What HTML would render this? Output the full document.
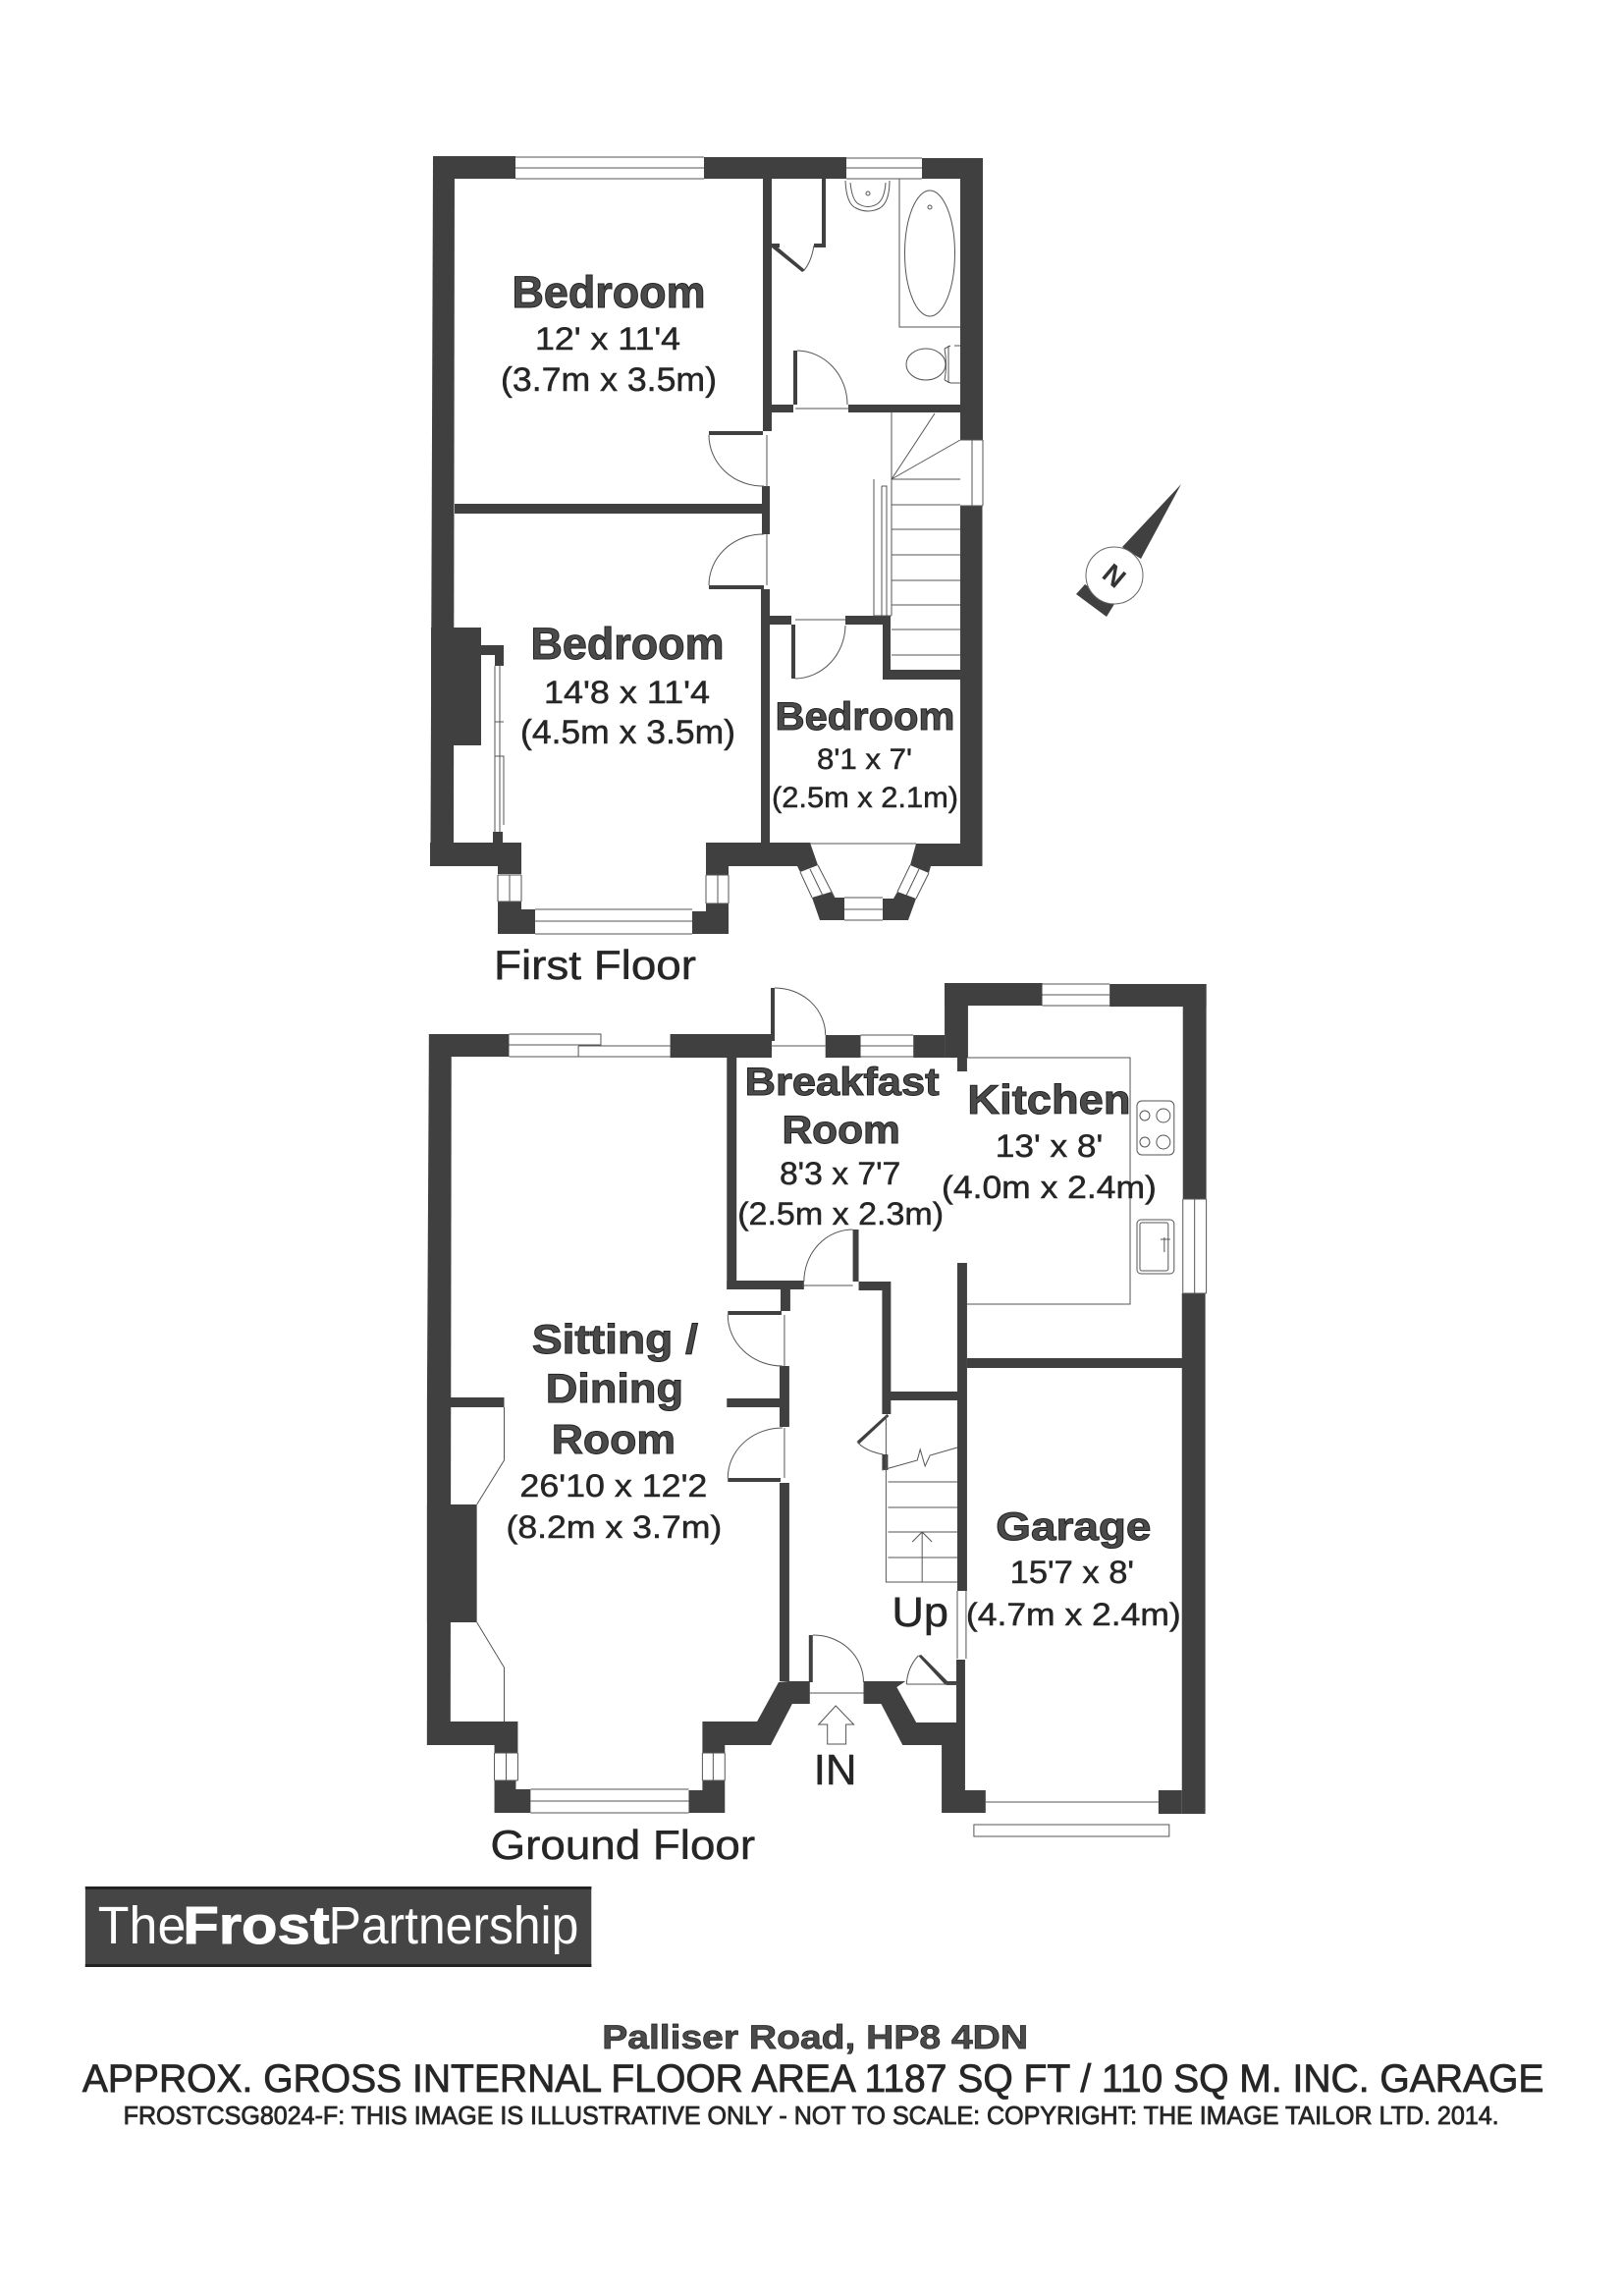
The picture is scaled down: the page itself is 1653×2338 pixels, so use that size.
<!DOCTYPE html>
<html><head><meta charset="utf-8"><title>Palliser Road floor plan</title>
<style>
html,body{margin:0;padding:0;background:#fff}
svg{display:block}
text{font-family:"Liberation Sans",Arial,sans-serif}
.w{fill:#404040}
.t{fill:none;stroke:#555;stroke-width:1}
.b{font-weight:bold;fill:#4a4a4a;stroke:#222;stroke-width:1}
.r{fill:#262626;stroke:#262626;stroke-width:.5}
</style></head><body>
<svg xmlns="http://www.w3.org/2000/svg" width="1653" height="2338" viewBox="0 0 1653 2338">
<rect width="1653" height="2338" fill="#fff"/>

<!-- FIRST FLOOR walls -->
<g class="w">
<rect x="441" y="159" width="84" height="23"/>
<rect x="717" y="160" width="145" height="22"/>
<rect x="939" y="161" width="62" height="21"/>
<polygon points="441,159 463,159 462,859 438.500,882 438.500,859"/>
<rect x="439" y="639" width="51" height="120"/>
<rect x="978" y="161" width="23" height="287"/>
<rect x="978" y="515" width="22.500" height="367"/>
<rect x="777" y="182" width="9" height="257"/>
<rect x="837" y="182" width="4" height="70"/>
<rect x="786" y="248" width="8" height="4"/>
<rect x="829" y="248" width="12" height="4"/>
<rect x="784" y="412" width="24" height="8"/>
<rect x="864" y="412" width="114" height="8"/>
<rect x="808" y="357" width="4" height="55"/>
<rect x="722" y="439" width="55" height="4"/>
<rect x="776" y="495" width="8" height="49"/>
<rect x="463" y="513" width="313" height="10"/>
<rect x="722" y="596" width="56" height="4"/>
<rect x="775" y="600" width="9" height="260"/>
<rect x="784" y="627" width="22" height="9"/>
<rect x="861" y="627" width="46" height="9"/>
<rect x="806" y="636" width="4" height="55"/>
<rect x="899" y="627" width="8" height="65"/>
<rect x="899" y="682" width="79" height="10"/>
<rect x="490" y="657" width="23" height="10"/>
<rect x="504" y="667" width="9" height="11"/>
<rect x="502" y="847" width="10" height="12"/>
<polygon points="438,858 531,858 531,890 507,890 507,882 438,882"/>
<polygon points="507,918 531,918 531,926 545,926 545,951 507,951"/>
<polygon points="705,951 705,928 719,928 719,920 742,920 742,951"/>
<polygon points="719,858 825,858 833,881 815,888 812,882 742,882 742,891 719,891"/>
<polygon points="827,914 847,908 850,914 860,914 860,937 835,937"/>
<polygon points="899,915 910,915 914,908 933,915 925,937 899,937"/>
<polygon points="933,859 978,859 1000.500,859 1000.500,882 948,882 946,889 927,881"/>
<polygon points="786,252 790,250 820,275 817,277" />
</g>
<!-- first floor thin lines -->
<g class="t">
<path d="M525 160H717M525 182H717M525 171H717"/>
<path d="M862 161H939M862 182H939M862 171H939"/>
<path d="M781 443V495M781 544V596"/>
<path d="M722 443A55 52 0 0 0 778 495"/>
<path d="M722 596A55 52 0 0 1 778 544"/>
<path d="M812 357A52 55 0 0 1 863 412"/>
<path d="M810 691A52 55 0 0 0 861 637"/>
<path d="M829 250Q826 268 818 276"/>
<path d="M810 416H864M810 631H861"/>
<path d="M916 182V333H978"/>
<ellipse cx="947" cy="258" rx="25.500" ry="64"/>
<circle cx="947" cy="211" r="2"/>
<path d="M861 184Q862 208 872 212Q884 218 896 212Q906 206 906 184"/>
<path d="M866 186Q868 205 875 208Q884 213 893 208Q901 203 902 186"/>
<circle cx="884" cy="197" r="2"/>
<ellipse cx="943" cy="371" rx="20" ry="16"/>
<path d="M962 355Q965 371 962 387M962 355L968 352M962 387L968 390H978M966 352V390M978 352H972"/>
<path d="M908 420V488M908 488L952 421M908 488L978 448M908 488H978"/>
<path d="M890 488V627H908M908 488V627"/>
<path d="M898 495H903V627M898 495V627"/>
<path d="M908 514H978M908 539H978M908 565H978M908 591H978M908 616H978M908 641H978M908 667H978"/>
<path d="M978 448H1001M1001 448V515M978 515H1001M990 448V515"/>
<path d="M504 678V847M509 678V847M504 770H513V840M504 735H513"/>
<path d="M507 891H531M507 918H531M507 891V918M531 891V918M519 891V918"/>
<path d="M719 891H742M719 920H742M719 891V920M742 891V920M731 891V920"/>
<path d="M545 926H705M545 951H705M545 938H705"/>
<path d="M825 859H933"/>
<path d="M815 888L827 914M833 881L850 914M825 885L838 912"/>
<path d="M927 881L914 908M946 889L933 915M936 885L923 912"/>
<path d="M860 914H899M860 937H899M860 926H899"/>
</g>

<!-- GROUND FLOOR -->
<g transform="translate(420 0) scale(.9946 1) translate(-420 0)">
<g class="w">
<rect x="437" y="1053" width="82" height="23"/>
<polygon points="437,1053 460,1053 459,1760 435,1777 435,1423"/>
<rect x="435" y="1532" width="51" height="120"/>
<polygon points="459,1423 514,1423 514,1433 459,1433"/>
<polygon points="435,1753 528,1753 528,1785 504,1785 504,1777 435,1777"/>
<polygon points="504,1813 526,1813 526,1822 541,1822 541,1846 504,1846"/>
<polygon points="703,1823 717,1823 717,1813 740,1813 740,1846 703,1846"/>
<polygon points="717,1785 740,1785 740,1777 787,1777 809,1735 827,1735 827,1712 805,1712 795,1713 773,1753 717,1753"/>
<rect x="684" y="1053" width="104" height="24"/>
<rect x="787" y="1006" width="4" height="54"/>
<rect x="843" y="1054" width="36" height="23"/>
<rect x="933" y="1054" width="32" height="23"/>
<rect x="965" y="1001" width="24" height="76"/>
<rect x="978" y="1077" width="10" height="14"/>
<rect x="965" y="1001" width="100" height="23"/>
<rect x="1134" y="1002" width="99" height="23"/>
<rect x="1209" y="1002" width="24" height="219"/>
<rect x="1208" y="1317" width="24" height="530"/>
<rect x="742" y="1077" width="10" height="236"/>
<rect x="742" y="1304" width="79" height="9"/>
<rect x="797" y="1313" width="10" height="22"/>
<rect x="743" y="1335" width="55" height="4"/>
<rect x="796" y="1391" width="10" height="62"/>
<rect x="742" y="1424" width="55" height="9"/>
<rect x="743" y="1505" width="54" height="4"/>
<rect x="796" y="1510" width="10" height="202"/>
<rect x="871" y="1252" width="6" height="53"/>
<rect x="877" y="1305" width="33" height="9"/>
<rect x="901" y="1314" width="9" height="126"/>
<rect x="909" y="1417" width="70" height="9"/>
<rect x="978" y="1286" width="10" height="334"/>
<rect x="988" y="1383" width="221" height="10"/>
<rect x="901" y="1481" width="6" height="16"/>
<rect x="826" y="1665" width="4" height="48"/>
<polygon points="882,1712 925,1712 916,1718 936,1754 977,1754 977,1690 986,1690 986,1823 1007,1823 1007,1846 962,1846 962,1777 922,1777 900,1735 882,1735"/>
<rect x="1184" y="1823" width="24" height="24"/>
<polygon points="906,1440 908,1442 878,1470 875,1468"/>
<polygon points="938,1686 941,1685 969,1713 966,1716"/>
<rect x="967" y="1712" width="11" height="4"/>
</g>
<g class="t">
<path d="M519 1053H613V1064H519M519 1076H684M590 1065H684M590 1065V1076M613 1053V1065"/>
<path d="M791 1006A52 48 0 0 1 843 1054"/>
<path d="M787 1065H843"/>
<path d="M879 1054H933M879 1076H933M879 1065H933"/>
<path d="M1065 1002H1134M1065 1024H1134M1065 1013H1134"/>
<path d="M1209 1221H1233M1209 1317H1233M1209 1221V1317M1233 1221V1317M1221 1221V1317"/>
<path d="M988 1077H1155V1328H988"/>
<rect x="1162" y="1121" width="38" height="55" rx="5"/>
<circle cx="1170" cy="1136" r="5"/><circle cx="1189" cy="1136" r="7"/>
<circle cx="1170" cy="1163" r="5"/><circle cx="1189" cy="1163" r="7"/>
<rect x="1162" y="1242" width="38" height="55" rx="4"/>
<rect x="1165" y="1245" width="29" height="49" rx="2"/>
<path d="M1186 1262H1196M1190 1260V1275"/>
<path d="M821 1305A50 53 0 0 1 871 1252"/>
<path d="M821 1309H871"/>
<path d="M743 1339A56 52 0 0 0 799 1391"/>
<path d="M801 1339V1391M801 1454V1505"/>
<path d="M743 1505A56 51 0 0 1 799 1454"/>
<path d="M514 1433V1487L486 1532M486 1652L514 1698V1753"/>
<path d="M830 1665A51 48 0 0 1 882 1713"/>
<path d="M826 1724H882"/>
<path d="M876 1469Q885 1478 902 1481"/>
<path d="M938 1686Q927 1698 926 1715M926 1715H978"/>
<path d="M905 1441V1611H978"/>
<path d="M907 1509H978M907 1535H978M907 1560H978M907 1586H978"/>
<path d="M901 1497L937 1487L940 1476L945 1493L950 1482L978 1474"/>
<path d="M942 1560V1611M932 1570L942 1560L952 1570"/>
<path d="M978 1620V1689M987 1620V1689"/>
<path d="M836 1756L853.500 1737L872 1756H864V1776H845V1756Z"/>
<path d="M504 1785H528M504 1813H528M504 1785V1813M528 1785V1813M516 1785V1813"/>
<path d="M717 1785H740M717 1813H740M717 1785V1813M740 1785V1813M728 1785V1813"/>
<path d="M541 1822H703M541 1846H703M541 1834H703"/>
<path d="M1007 1835H1184"/>
<rect x="995" y="1858" width="200" height="12"/>
</g>
<text class="b" x="760.500" y="1115" font-size="40" textLength="199" lengthAdjust="spacingAndGlyphs">Breakfast</text>
<text class="b" x="798.500" y="1164" font-size="40" textLength="121" lengthAdjust="spacingAndGlyphs">Room</text>
<text class="r" x="796" y="1206" font-size="32" textLength="124" lengthAdjust="spacingAndGlyphs">8'3 x 7'7</text>
<text class="r" x="753" y="1247" font-size="32" textLength="211" lengthAdjust="spacingAndGlyphs">(2.5m x 2.3m)</text>
<text class="b" x="988.500" y="1134" font-size="42" textLength="167" lengthAdjust="spacingAndGlyphs">Kitchen</text>
<text class="r" x="1017" y="1178" font-size="32" textLength="110" lengthAdjust="spacingAndGlyphs">13' x 8'</text>
<text class="r" x="962" y="1220" font-size="32" textLength="220" lengthAdjust="spacingAndGlyphs">(4.0m x 2.4m)</text>
<text class="b" x="542.500" y="1378" font-size="42" textLength="170" lengthAdjust="spacingAndGlyphs">Sitting /</text>
<text class="b" x="556.500" y="1428" font-size="42" textLength="141" lengthAdjust="spacingAndGlyphs">Dining</text>
<text class="b" x="562.500" y="1480" font-size="42" textLength="127" lengthAdjust="spacingAndGlyphs">Room</text>
<text class="r" x="530" y="1524" font-size="32" textLength="192" lengthAdjust="spacingAndGlyphs">26'10 x 12'2</text>
<text class="r" x="516" y="1566" font-size="32" textLength="221" lengthAdjust="spacingAndGlyphs">(8.2m x 3.7m)</text>
<text class="b" x="1017.500" y="1568" font-size="40" textLength="159" lengthAdjust="spacingAndGlyphs">Garage</text>
<text class="r" x="1032" y="1612" font-size="32" textLength="127" lengthAdjust="spacingAndGlyphs">15'7 x 8'</text>
<text class="r" x="987" y="1655" font-size="32" textLength="220" lengthAdjust="spacingAndGlyphs">(4.7m x 2.4m)</text>
<text class="r" x="911" y="1656" font-size="43" textLength="58" lengthAdjust="spacingAndGlyphs">Up</text>
<text class="r" x="831" y="1817" font-size="44" textLength="44" lengthAdjust="spacingAndGlyphs">IN</text>
<text class="r" x="500" y="1893" font-size="42" textLength="271" lengthAdjust="spacingAndGlyphs">Ground Floor</text>
</g>

<!-- Compass -->
<polygon points="1203,493 1143,557 1162,569" fill="#404040"/>
<polygon points="1105,595 1096,605 1127,628 1135,615" fill="#404040"/>
<circle cx="1135" cy="586" r="29" fill="#fff" stroke="#666" stroke-width="1"/>
<text x="0" y="0" transform="translate(1135 586) rotate(40)" font-size="28" font-weight="bold" text-anchor="middle" dy="10" fill="#333">N</text>

<!-- First floor labels -->
<g>
<text class="b" x="521.500" y="313" font-size="45" textLength="197" lengthAdjust="spacingAndGlyphs">Bedroom</text>
<text class="r" x="545" y="356" font-size="32" textLength="148" lengthAdjust="spacingAndGlyphs">12' x 11'4</text>
<text class="r" x="510" y="398" font-size="34" textLength="220" lengthAdjust="spacingAndGlyphs">(3.7m x 3.5m)</text>
<text class="b" x="540.500" y="671" font-size="45" textLength="197" lengthAdjust="spacingAndGlyphs">Bedroom</text>
<text class="r" x="554" y="716" font-size="32" textLength="169" lengthAdjust="spacingAndGlyphs">14'8 x 11'4</text>
<text class="r" x="530" y="757" font-size="34" textLength="219" lengthAdjust="spacingAndGlyphs">(4.5m x 3.5m)</text>
<text class="b" x="789.500" y="743" font-size="40" textLength="183" lengthAdjust="spacingAndGlyphs">Bedroom</text>
<text class="r" x="832" y="783" font-size="30" textLength="97" lengthAdjust="spacingAndGlyphs">8'1 x 7'</text>
<text class="r" x="786" y="822" font-size="30" textLength="190" lengthAdjust="spacingAndGlyphs">(2.5m x 2.1m)</text>
<text class="r" x="503" y="997" font-size="42" textLength="206" lengthAdjust="spacingAndGlyphs">First Floor</text>
</g>

<!-- Logo and footer -->
<g transform="translate(60 0) scale(.995 1) translate(-60 0)">
<rect x="87" y="1921" width="518" height="82" fill="#454545"/>
<rect x="87" y="1921" width="518" height="3" fill="#222"/>
<rect x="87" y="2000" width="518" height="3" fill="#222"/>
<text x="100" y="1979" font-size="54" fill="#fff" textLength="90" lengthAdjust="spacingAndGlyphs">The</text>
<text x="187" y="1979" font-size="54" font-weight="bold" fill="#fff" stroke="#fff" stroke-width="1" textLength="150" lengthAdjust="spacingAndGlyphs">Frost</text>
<text x="336" y="1979" font-size="54" fill="#fff" textLength="256" lengthAdjust="spacingAndGlyphs">Partnership</text>
<text class="b" x="616" y="2086" font-size="34" textLength="436" lengthAdjust="spacingAndGlyphs" style="stroke-width:.7">Palliser Road, HP8 4DN</text>
<text class="r" x="84" y="2130" font-size="40" textLength="1496" lengthAdjust="spacingAndGlyphs" style="stroke-width:.8">APPROX. GROSS INTERNAL FLOOR AREA 1187 SQ FT / 110 SQ M. INC. GARAGE</text>
<text class="r" x="126" y="2163" font-size="26" textLength="1408" lengthAdjust="spacingAndGlyphs" style="stroke-width:.8">FROSTCSG8024-F: THIS IMAGE IS ILLUSTRATIVE ONLY - NOT TO SCALE: COPYRIGHT: THE IMAGE TAILOR LTD. 2014.</text>
</g>
</svg>
</body></html>
